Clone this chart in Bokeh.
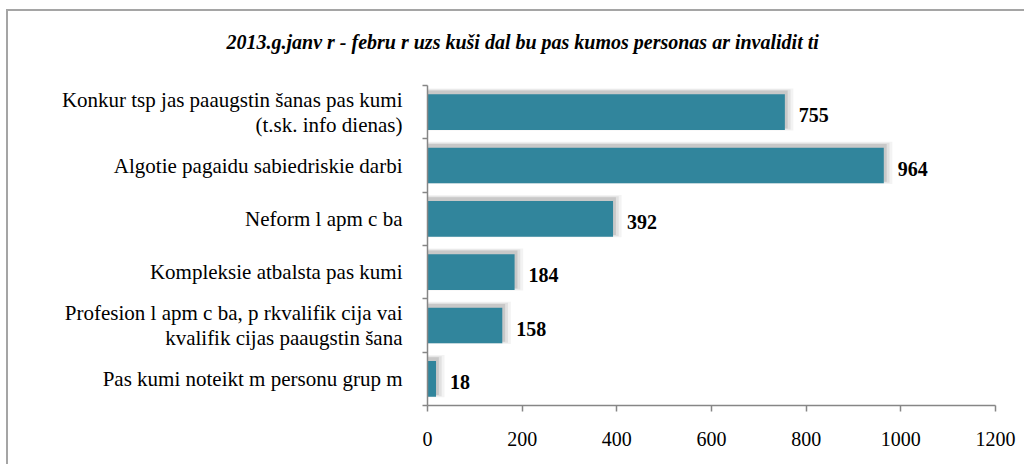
from bokeh.plotting import figure
from bokeh.models import Range1d, FixedTicker, LinearAxis, Title
from bokeh.embed import file_html
from bokeh.resources import INLINE
from bokeh.core.properties import value

title_text = "2013.g.janv r - febru r uzs kuši dal bu pas kumos personas ar invalidit ti"
categories = [
    "Konkur tsp jas paaugstin šanas pas kumi\n(t.sk. info dienas)",
    "Algotie pagaidu sabiedriskie darbi",
    "Neform l apm c ba",
    "Kompleksie atbalsta pas kumi",
    "Profesion l apm c ba, p rkvalifik cija vai\nkvalifik cijas paaugstin šana",
    "Pas kumi noteikt m personu grup m",
]
values = [755, 964, 392, 184, 158, 18]
x_ticks = [0, 200, 400, 600, 800, 1000, 1200]

n = len(categories)
positions = list(range(1, n + 1))
boundaries = [i + 0.5 for i in range(n + 1)]

FONT = "Liberation Serif"
BAR = "#31859C"
AXIS = "#868686"

p = figure(width=1018, height=455, output_backend="svg", toolbar_location=None, title=None,
           x_range=Range1d(x_ticks[0], x_ticks[-1]), y_range=Range1d(n + 0.5, 0.5),
           min_border_left=419, min_border_right=31, min_border_top=74, min_border_bottom=61)
p.styles = {"border-top": "2px solid #a5a5a5", "border-left": "2px solid #a5a5a5",
            "margin-left": "6px", "margin-top": "9px"}
p.outline_line_color = None
p.xgrid.visible = False
p.ygrid.visible = False
p.background_fill_color = "white"
p.border_fill_color = "white"

xa = p.below[0]
ya = p.left[0]

# invisible spacer between title and plot area
spacer = LinearAxis(ticker=FixedTicker(ticks=[x_ticks[0]], minor_ticks=[]),
                    major_label_overrides={x_ticks[0]: ""}, major_label_text_font_size="1px",
                    axis_line_color=None, major_tick_line_color=None, minor_tick_line_color=None,
                    major_tick_out=23, major_tick_in=0, minor_tick_out=0, minor_tick_in=0,
                    major_label_standoff=0)
p.add_layout(spacer, "above")

p.add_layout(Title(text=title_text, align="left", offset=-201, vertical_align="bottom",
                   standoff=20, text_font=FONT, text_font_style="bold italic",
                   text_font_size="20px", text_color="black"), "above")

# shadow layers (blur approximation)
for extra, grow, alpha in [(18, 0.12, 0.08), (12, 0.08, 0.12), (6, 0.04, 0.20)]:
    p.hbar(y=[y - 0.05 for y in positions], left=0, right=[v + extra for v in values],
           height=0.67 + grow, fill_color="#666666", fill_alpha=alpha, line_color=None)

p.hbar(y=positions, left=0, right=values, height=0.67, fill_color=BAR, line_color=None)

p.text(x=values, y=positions, text=[str(v) for v in values], x_offset=14, y_offset=3,
       text_baseline="middle", text_align="left", text_font=value(FONT),
       text_font_style="bold", text_font_size="20px", text_color="black")

# y axis
ya.ticker = FixedTicker(ticks=positions, minor_ticks=boundaries)
ya.major_label_overrides = {pos: lab for pos, lab in zip(positions, categories)}
ya.major_label_text_font = FONT
ya.major_label_text_font_size = "21px"
ya.major_label_text_line_height = 1.05
ya.major_label_text_color = "black"
ya.major_label_standoff = 20
ya.major_tick_out = 0
ya.major_tick_in = 0
ya.minor_tick_out = 5
ya.minor_tick_in = 0
ya.minor_tick_line_color = AXIS
ya.minor_tick_line_width = 1.5
ya.axis_line_color = AXIS
ya.axis_line_width = 1.5

# x axis
xa.ticker = FixedTicker(ticks=x_ticks, minor_ticks=[])
xa.major_label_text_font = FONT
xa.major_label_text_font_size = "20px"
xa.major_label_text_color = "black"
xa.major_label_standoff = 20
xa.major_tick_out = 6
xa.major_tick_in = 0
xa.major_tick_line_color = AXIS
xa.major_tick_line_width = 1.5
xa.axis_line_color = AXIS
xa.axis_line_width = 1.5

open("out.html", "w").write(file_html(p, INLINE))
